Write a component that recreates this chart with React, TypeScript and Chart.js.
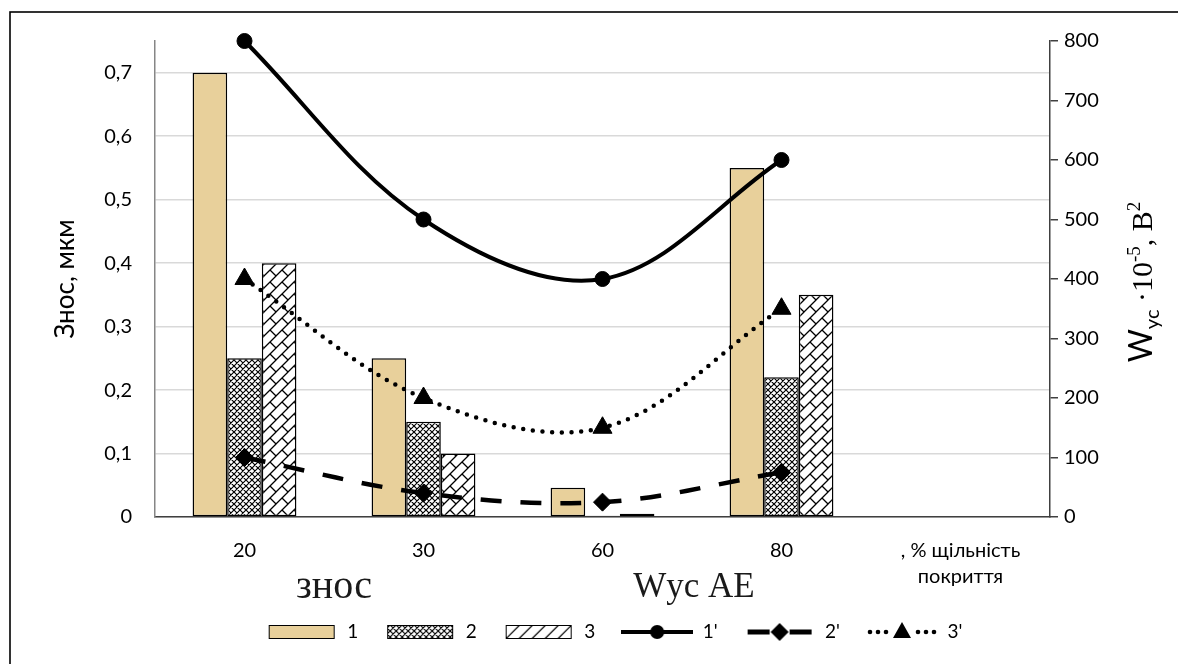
import React, { useEffect, useRef } from 'react';
import { Chart, registerables } from 'chart.js';

Chart.register(...registerables);

// ---- data ----
const categories: (string | string[])[] = ['20', '30', '60', '80', [', % щільність', 'покриття']];
const wear1 = [0.7, 0.25, 0.046, 0.55];
const wear2 = [0.25, 0.15, 0.002, 0.22];
const wear3 = [0.4, 0.1, 0.005, 0.35];
const ae1 = [800, 500, 400, 600];
const ae2 = [100, 40, 25, 75];
const ae3 = [400, 200, 150, 350];
const legendNames = ['1', '2', '3', "1'", "2'", "3'"];
const leftTitle = 'Знос, мкм';
const bottomLabelA = 'знос';
const bottomLabelB = 'Wус АЕ';

const SANS = 'Lato, "Noto Sans", sans-serif';
const SERIF = '"Liberation Serif", "DejaVu Serif", serif';
const TAN = '#E8D09B';

function mk(w: number, h: number) {
  const c = document.createElement('canvas');
  c.width = w;
  c.height = h;
  return c;
}

function crossTile() {
  const c = mk(6, 6);
  const g = c.getContext('2d')!;
  g.fillStyle = '#fff';
  g.fillRect(0, 0, 6, 6);
  g.strokeStyle = '#000';
  g.lineWidth = 1.2;
  g.beginPath();
  for (let k = -1; k <= 1; k++) {
    g.moveTo(k * 6, 0);
    g.lineTo(k * 6 + 6, 6);
    g.moveTo(k * 6 + 6, 0);
    g.lineTo(k * 6, 6);
  }
  g.stroke();
  return c;
}

function brickTile() {
  const c = mk(12, 12);
  const g = c.getContext('2d')!;
  g.fillStyle = '#fff';
  g.fillRect(0, 0, 12, 12);
  g.strokeStyle = '#000';
  g.lineWidth = 1.3;
  g.beginPath();
  g.moveTo(-1, 13);
  g.lineTo(13, -1);
  g.moveTo(11, 13);
  g.lineTo(13, 11);
  g.moveTo(-1, 1);
  g.lineTo(1, -1);
  g.moveTo(6, 6);
  g.lineTo(12.5, 12.5);
  g.stroke();
  return c;
}

function boxImg(fill: (g: CanvasRenderingContext2D) => void) {
  const c = mk(72, 14);
  const g = c.getContext('2d')!;
  g.save();
  g.beginPath();
  g.rect(3, 0.5, 66, 13);
  g.clip();
  fill(g);
  g.restore();
  g.strokeStyle = '#000';
  g.lineWidth = 1;
  g.strokeRect(3.5, 0.5, 65, 13);
  return c;
}

function lineImg(kind: number) {
  const c = mk(72, 24);
  const g = c.getContext('2d')!;
  g.fillStyle = '#000';
  g.strokeStyle = '#000';
  const cy = 12;
  if (kind === 0) {
    g.lineWidth = 4;
    g.beginPath();
    g.moveTo(0, cy);
    g.lineTo(72, cy);
    g.stroke();
    g.beginPath();
    g.arc(36, cy, 7, 0, Math.PI * 2);
    g.fill();
  } else if (kind === 1) {
    g.lineWidth = 5;
    g.beginPath();
    g.moveTo(4, cy);
    g.lineTo(26, cy);
    g.moveTo(46, cy);
    g.lineTo(68, cy);
    g.stroke();
    g.beginPath();
    g.moveTo(36, cy - 9);
    g.lineTo(45, cy);
    g.lineTo(36, cy + 9);
    g.lineTo(27, cy);
    g.closePath();
    g.fill();
  } else {
    [4, 12, 20, 52, 60, 68].forEach((x) => {
      g.beginPath();
      g.arc(x, cy, 2.3, 0, Math.PI * 2);
      g.fill();
    });
    g.beginPath();
    g.moveTo(36, cy - 10);
    g.lineTo(45, cy + 6);
    g.lineTo(27, cy + 6);
    g.closePath();
    g.fill();
  }
  return c;
}

const decorPlugin = {
  id: 'decor',
  afterDraw(chart: any) {
    const ctx: CanvasRenderingContext2D = chart.ctx;
    ctx.save();
    // outer frame
    ctx.strokeStyle = '#000';
    ctx.lineWidth = 1.6;
    ctx.strokeRect(10, 12, 3000, 3000);

    // bottom captions
    ctx.fillStyle = '#1a1a1a';
    ctx.textAlign = 'center';
    ctx.textBaseline = 'alphabetic';
    ctx.font = `40px ${SERIF}`;
    ctx.fillText(bottomLabelA, 334, 598);
    ctx.font = `35px ${SERIF}`;
    ctx.fillText(bottomLabelB, 694, 597);

    // right axis title: W_yc ·10^-5, B^2
    const parts = [
      { t: 'W', f: `32px ${SANS}`, dy: 0 },
      { t: 'ус', f: `20px ${SANS}`, dy: 7 },
      { t: ' ·10', f: `30px ${SERIF}`, dy: 0 },
      { t: '-5', f: `19px ${SERIF}`, dy: -12 },
      { t: ', В', f: `30px ${SERIF}`, dy: 0 },
      { t: '2', f: `19px ${SERIF}`, dy: -12 },
    ];
    let total = 0;
    const widths = parts.map((p) => {
      ctx.font = p.f;
      const w = ctx.measureText(p.t).width;
      total += w;
      return w;
    });
    ctx.translate(1152, 282);
    ctx.rotate(-Math.PI / 2);
    ctx.textAlign = 'left';
    ctx.fillStyle = '#000';
    let x = -total / 2;
    parts.forEach((p, i) => {
      ctx.font = p.f;
      ctx.fillText(p.t, x, p.dy);
      x += widths[i];
    });
    ctx.restore();
  },
};

export default function App() {
  const ref = useRef<HTMLCanvasElement>(null);

  useEffect(() => {
    const canvas = ref.current!;
    const ctx = canvas.getContext('2d')!;
    const crossPat = ctx.createPattern(crossTile(), 'repeat')!;
    const brickPat = ctx.createPattern(brickTile(), 'repeat')!;

    const legendImgs = [
      boxImg((g) => {
        g.fillStyle = TAN;
        g.fillRect(0, 0, 72, 14);
      }),
      boxImg((g) => {
        g.fillStyle = g.createPattern(crossTile(), 'repeat')!;
        g.fillRect(0, 0, 72, 14);
      }),
      boxImg((g) => {
        g.fillStyle = '#fff';
        g.fillRect(0, 0, 72, 14);
        g.strokeStyle = '#000';
        g.lineWidth = 1.2;
        g.beginPath();
        for (let x = -10; x < 90; x += 13) {
          g.moveTo(x, 14);
          g.lineTo(x + 14, 0);
        }
        g.stroke();
      }),
      lineImg(0),
      lineImg(1),
      lineImg(2),
    ];

    const barCommon = {
      type: 'bar' as const,
      yAxisID: 'y',
      borderColor: '#000',
      borderWidth: 1.5,
      borderSkipped: false as const,
      categoryPercentage: 0.58,
      barPercentage: 1,
      order: 1,
    };
    const lineCommon = {
      type: 'line' as const,
      yAxisID: 'y1',
      borderColor: '#000',
      backgroundColor: '#000',
      pointBackgroundColor: '#000',
      pointBorderColor: '#000',
      pointBorderWidth: 1,
      tension: 0.35,
      fill: false,
      clip: false as any,
      order: 0,
    };

    const chart = new Chart(canvas, {
      type: 'bar',
      data: {
        labels: categories as any,
        datasets: [
          { ...barCommon, label: legendNames[0], data: wear1, backgroundColor: TAN },
          { ...barCommon, label: legendNames[1], data: wear2, backgroundColor: crossPat as any },
          { ...barCommon, label: legendNames[2], data: wear3, backgroundColor: brickPat as any },
          {
            ...lineCommon,
            label: legendNames[3],
            data: ae1,
            borderWidth: 4,
            pointStyle: 'circle',
            pointRadius: 7.5,
          },
          {
            ...lineCommon,
            label: legendNames[4],
            data: ae2,
            borderWidth: 4.5,
            borderDash: [21, 19],
            pointStyle: 'rectRot',
            pointRadius: 9,
          },
          {
            ...lineCommon,
            label: legendNames[5],
            data: ae3,
            borderWidth: 4.5,
            borderDash: [0, 9.7],
            borderCapStyle: 'round',
            pointStyle: 'triangle',
            pointRadius: 11,
          },
        ] as any,
      },
      options: {
        responsive: false,
        animation: false,
        events: [],
        layout: { padding: { left: 50, right: 0, top: 41, bottom: 12.5 } },
        scales: {
          x: {
            grid: { display: false, drawTicks: false },
            border: { display: true, color: '#404040', width: 1.5 },
            ticks: {
              padding: 21,
              maxRotation: 0,
              autoSkip: false,
              color: '#000',
              font: { family: SANS, size: 20, lineHeight: 1.3 },
            },
            afterFit: (s: any) => {
              s.height = 79.5;
            },
          },
          y: {
            position: 'left',
            min: 0,
            max: 0.75,
            ticks: {
              stepSize: 0.1,
              padding: 23,
              color: '#000',
              font: { family: SANS, size: 20 },
              callback: (v: any) => (v === 0 ? '0' : Number(v).toFixed(1).replace('.', ',')),
            },
            grid: { color: '#d9d9d9', lineWidth: 1.5, drawTicks: false },
            border: { color: '#868686', width: 1.5 },
            title: {
              display: true,
              text: leftTitle,
              color: '#000',
              font: { family: SANS, size: 26 },
              padding: { top: 0, bottom: 0 },
            },
            afterBuildTicks: (s: any) => {
              s.ticks = s.ticks.filter((t: any) => t.value <= 0.7001);
            },
            afterFit: (s: any) => {
              s.width = 105;
            },
          },
          y1: {
            position: 'right',
            min: 0,
            max: 800,
            ticks: {
              stepSize: 100,
              padding: 6,
              color: '#000',
              font: { family: SANS, size: 20 },
            },
            grid: { drawOnChartArea: false, drawTicks: true, tickLength: 8, color: '#404040', lineWidth: 1.5 },
            border: { color: '#404040', width: 1.5 },
            afterFit: (s: any) => {
              s.width = 128;
            },
          },
        },
        plugins: {
          tooltip: { enabled: false },
          legend: {
            position: 'bottom',
            labels: {
              usePointStyle: true,
              pointStyleWidth: 72,
              padding: 26,
              color: '#000',
              font: { family: SANS, size: 19 },
              generateLabels: () =>
                legendNames.map((n, i) => ({
                  text: n,
                  pointStyle: legendImgs[i] as any,
                  fillStyle: '#000',
                  strokeStyle: '#000',
                  lineWidth: 0,
                  hidden: false,
                  datasetIndex: i,
                  fontColor: '#000',
                })),
            },
          },
        },
      } as any,
      plugins: [decorPlugin],
    });
    return () => chart.destroy();
  }, []);

  return (
    <div style={{ position: 'fixed', left: 0, top: 0, width: 1178, height: 664, background: '#fff' }}>
      <canvas ref={ref} width={1178} height={664} style={{ display: 'block' }} />
    </div>
  );
}
